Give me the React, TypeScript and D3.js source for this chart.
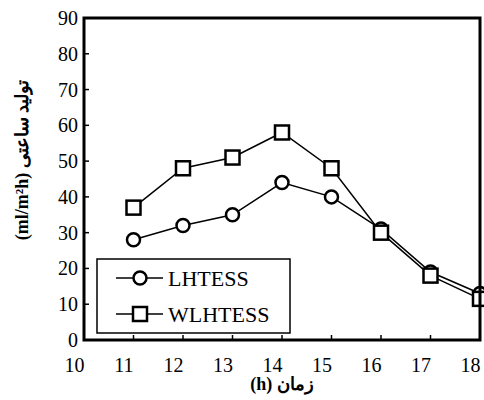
import React from 'react';
import * as d3 from 'd3';

const hours = [11, 12, 13, 14, 15, 16, 17, 18];
const lhtess = [28, 32, 35, 44, 40, 31, 19, 13];
const wlhtess = [37, 48, 51, 58, 48, 30, 18, 11.5];
const xTicks = [10, 11, 12, 13, 14, 15, 16, 17, 18];
const yTicks = [0, 10, 20, 30, 40, 50, 60, 70, 80, 90];
const seriesNames = ['LHTESS', 'WLHTESS'];

const serif = '"Liberation Serif", "Times New Roman", Tinos, "DejaVu Serif", serif';

export default function App() {
  const width = 484;
  const height = 400;
  const margins = { left: 84, right: 4, top: 18, bottom: 60 };
  const x = d3.scaleLinear().domain([10, 18]).range([margins.left, width - margins.right]);
  const y = d3.scaleLinear().domain([0, 90]).range([height - margins.bottom, margins.top]);

  const line = d3.line<number>()
    .x((d, i) => x(hours[i]))
    .y(d => y(d));

  const x0 = x(10), x1 = x(18), y0 = y(0), y1 = y(90);
  const txt = { fontFamily: serif };

  return (
    <svg width={width} height={height}
      style={{ position: 'fixed', left: 0, top: 0, background: '#fff' }}>
      {/* ticks inside */}
      {yTicks.map(t => (
        <g key={'y' + t}>
          <line x1={x0} x2={x0 + 5} y1={y(t)} y2={y(t)} stroke="#000" strokeWidth={1.5} />
          <text x={78} y={y(t) + 7} textAnchor="end" fontSize={20} style={txt}>{t}</text>
        </g>
      ))}
      {xTicks.map(t => (
        <g key={'x' + t}>
          <line x1={x(t)} x2={x(t)} y1={y0} y2={y0 - 5} stroke="#000" strokeWidth={1.5} />
          <text x={x(t) - 9.5} y={y0 + 32} textAnchor="middle" fontSize={20} style={txt}>{t}</text>
        </g>
      ))}

      {/* series */}
      <path d={line(lhtess) || ''} fill="none" stroke="#000" strokeWidth={1.5} />
      <path d={line(wlhtess) || ''} fill="none" stroke="#000" strokeWidth={1.5} />
      {lhtess.map((v, i) => (
        <circle key={'c' + i} cx={x(hours[i])} cy={y(v)} r={6.5} fill="#fff" stroke="#000" strokeWidth={2.5} />
      ))}
      {wlhtess.map((v, i) => (
        <rect key={'s' + i} x={x(hours[i]) - 7} y={y(v) - 7} width={14} height={14} fill="#fff" stroke="#000" strokeWidth={2.5} />
      ))}

      {/* frame */}
      <rect x={x0} y={y1} width={x1 - x0} height={y0 - y1} fill="none" stroke="#000" strokeWidth={3} />

      {/* legend */}
      <rect x={97} y={259} width={193} height={74} fill="#fff" stroke="#000" strokeWidth={1.5} />
      {seriesNames.map((name, i) => {
        const ly = 278 + i * 36;
        return (
          <g key={name}>
            <line x1={116} x2={163} y1={ly} y2={ly} stroke="#000" strokeWidth={1.5} />
            {i === 0
              ? <circle cx={140} cy={ly} r={6.5} fill="#fff" stroke="#000" strokeWidth={2.5} />
              : <rect x={133} y={ly - 7} width={14} height={14} fill="#fff" stroke="#000" strokeWidth={2.5} />}
            <text x={168} y={ly + 7.5} fontSize={22} style={txt}>{name}</text>
          </g>
        );
      })}

      {/* axis titles */}
      <text x={(x0 + x1) / 2} y={390} textAnchor="middle" fontSize={18} fontWeight="bold" style={txt}>(h) زمان</text>
      <text transform="translate(28,160) rotate(-90)" textAnchor="middle" fontSize={18} fontWeight="bold" style={txt}>(ml/m²h) تولید ساعتی</text>
    </svg>
  );
}
